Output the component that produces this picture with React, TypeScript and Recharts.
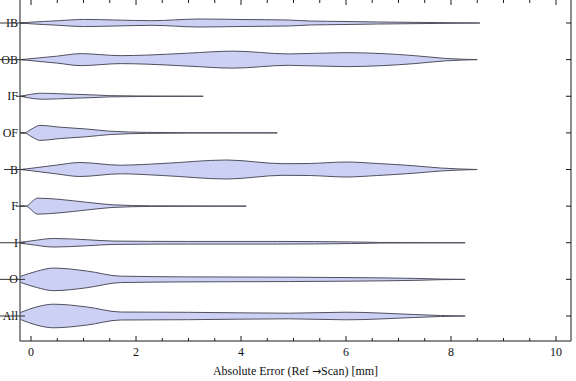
import React from 'react';
import { ComposedChart, Area, XAxis, YAxis } from 'recharts';

// categories from bottom (position 1) to top (position 9)
const categories = ['All', 'O', 'I', 'F', 'B', 'OF', 'IF', 'OB', 'IB'];
const categoryPositions = [1, 2, 3, 4, 5, 6, 7, 8, 9];

const majorTicks = [0, 2, 4, 6, 8, 10];
const allXTicks = [0, 0.5, 1, 1.5, 2, 2.5, 3, 3.5, 4, 4.5, 5, 5.5, 6, 6.5, 7, 7.5, 8, 8.5, 9, 9.5, 10];

// violin profiles: [absolute error (mm), density half-width]
const violinIB: [number, number][] = [[-0.2, 0], [0, 0.8], [0.5, 2.2], [1, 3.6], [1.6, 3], [2.3, 2.3], [3.2, 4], [4, 3.5], [4.9, 3], [5.3, 2], [6, 1.5], [6.6, 1], [7.6, 0.5], [8.55, 0]];
const violinOB: [number, number][] = [[-0.2, 0], [0, 1], [0.5, 3.5], [0.95, 6], [1.7, 4], [2.2, 4.5], [3, 6.5], [3.85, 8.5], [4.9, 5.7], [6, 7], [6.7, 6], [7.3, 4], [7.9, 1.2], [8.5, 0]];
const violinIF: [number, number][] = [[-0.2, 0], [-0.05, 1.5], [0.2, 3], [0.5, 2.6], [0.8, 2], [1.2, 1.3], [1.5, 0.6], [2, 0.3], [3.28, 0]];
const violinOF: [number, number][] = [[-0.2, 0], [-0.13, 0], [0, 3.5], [0.17, 7.5], [0.55, 5.7], [1.07, 3.8], [1.5, 1.7], [2.2, 0.5], [3, 0.2], [4.69, 0]];
const violinB: [number, number][] = [[-0.2, 0], [0, 1.2], [0.5, 4.5], [0.93, 7], [1.7, 4.3], [2.5, 6], [3.73, 9.5], [4.8, 5.8], [5.3, 6], [6, 7.5], [6.6, 6], [7.3, 3.7], [7.8, 1.5], [8.5, 0]];
const violinF: [number, number][] = [[-0.2, 0], [-0.11, 0], [0.13, 8], [0.55, 6.7], [1.07, 3.8], [1.56, 1.3], [2.3, 0.3], [4.1, 0]];
const violinI: [number, number][] = [[-0.2, 0.5], [0, 1.8], [0.43, 4.3], [1.07, 3], [1.56, 1.7], [3, 1.3], [4.7, 1.3], [6.1, 0.8], [6.65, 0.3], [8.27, 0]];
const violinO: [number, number][] = [[-0.2, 3], [0.1, 8], [0.43, 11.3], [1.07, 8.3], [1.7, 3.2], [3, 2.5], [4.9, 2.2], [6, 1.8], [7.3, 1], [7.8, 0.3], [8.27, 0]];
const violinAll: [number, number][] = [[-0.2, 3.5], [0.1, 9], [0.43, 11.8], [1.07, 9], [1.7, 4], [3, 3.7], [4.9, 2.8], [6, 3.8], [7.3, 1.5], [7.8, 0.5], [8.27, 0]];

const violins: Record<string, [number, number][]> = {
  All: violinAll, O: violinO, I: violinI, F: violinF, B: violinB,
  OF: violinOF, IF: violinIF, OB: violinOB, IB: violinIB,
};

// density -> category-axis units
const WIDTH_SCALE = 1 / 36.625;

// style: how far each label's stub line runs outside the frame (px)
const outerStub: Record<string, number> = { IB: 20, OB: 20, IF: 4, OF: 0, B: 16, F: 4, I: 20, O: 20, All: 20 };

const FONT = '"Liberation Serif", "Times New Roman", serif';
const FRAME = '#1a1a1a';
const PLOT_TOP = 0;

const XTick = (props: any) => {
  const { x, y, payload } = props;
  const v = payload.value;
  const major = majorTicks.includes(v);
  const len = major ? 5 : 3;
  return (
    <g>
      <line x1={x} x2={x} y1={y} y2={y - len} stroke={FRAME} strokeWidth={1} />
      <line x1={x} x2={x} y1={PLOT_TOP} y2={PLOT_TOP + len} stroke={FRAME} strokeWidth={1} />
      {major && (
        <text x={x} y={y + 15} textAnchor="middle" fontFamily={FONT} fontSize={12} fill="#111">
          {v}
        </text>
      )}
    </g>
  );
};

const XLabel = (props: any) => {
  const vb = props.viewBox || { x: 20, y: 341, width: 551, height: 40 };
  const cx = vb.x + vb.width / 2;
  const by = vb.y + vb.height - 6;
  return (
    <text x={cx} y={by} textAnchor="middle" fontFamily={FONT} fontSize={12} fill="#111">
      <tspan>Absolute Error (Ref </tspan>
      <tspan fontFamily='"DejaVu Sans", sans-serif' fontSize={11}>{'\u2192'}</tspan>
      <tspan>Scan) [mm]</tspan>
    </text>
  );
};

const YTickLeft = (props: any) => {
  const { x, y, payload } = props;
  const label = categories[categoryPositions.indexOf(payload.value)];
  const out = outerStub[label] ?? 0;
  return (
    <g>
      <text x={x - 2} y={y} dy={4} textAnchor="end" fontFamily={FONT} fontSize={12} fill="#111">
        {label}
      </text>
      <line x1={x - out} x2={x + 5} y1={y} y2={y} stroke="#333" strokeWidth={1} />
    </g>
  );
};

const YTickRight = (props: any) => {
  const { x, y } = props;
  return <line x1={x} x2={x - 5} y1={y} y2={y} stroke={FRAME} strokeWidth={1} />;
};

export default function App() {
  return (
    <div style={{ position: 'absolute', left: 0, top: 0 }}>
      <ComposedChart width={576} height={381} margin={{ top: 0, right: 0, bottom: 0, left: 0 }}>
        <XAxis
          dataKey="x"
          type="number"
          domain={[-0.21, 10.286]}
          allowDataOverflow
          ticks={allXTicks}
          interval={0}
          tickSize={0}
          tickMargin={0}
          tick={<XTick />}
          height={40}
          axisLine={{ stroke: FRAME, strokeWidth: 1 }}
          label={<XLabel />}
        />
        <YAxis
          yAxisId="left"
          type="number"
          domain={[0.3174, 9.628]}
          allowDataOverflow
          ticks={categoryPositions}
          interval={0}
          tickSize={0}
          tickMargin={0}
          tick={<YTickLeft />}
          width={20}
          axisLine={{ stroke: FRAME, strokeWidth: 1 }}
        />
        <YAxis
          yAxisId="right"
          orientation="right"
          type="number"
          domain={[0.3174, 9.628]}
          allowDataOverflow
          ticks={categoryPositions}
          interval={0}
          tickSize={0}
          tickMargin={0}
          tick={<YTickRight />}
          width={5}
          axisLine={{ stroke: FRAME, strokeWidth: 1 }}
        />
        {categories.map((cat, i) => {
          const pos = categoryPositions[i];
          const data = violins[cat].map(([x, w]) => ({
            x,
            band: [pos - w * WIDTH_SCALE, pos + w * WIDTH_SCALE],
          }));
          return (
            <Area
              key={cat}
              yAxisId="left"
              data={data}
              dataKey="band"
              type="monotone"
              fill="#cbd0f4"
              fillOpacity={1}
              stroke="#50505e"
              strokeWidth={1}
              dot={false}
              activeDot={false}
              isAnimationActive={false}
            />
          );
        })}
      </ComposedChart>
    </div>
  );
}
